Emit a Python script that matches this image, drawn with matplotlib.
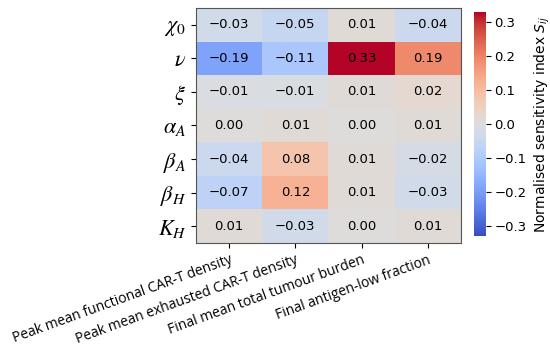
import matplotlib.pyplot as plt
import numpy as np

params = [r'$\chi_0$', r'$\nu$', r'$\xi$', r'$\alpha_A$', r'$\beta_A$', r'$\beta_H$', r'$K_H$']
outputs = ['Peak mean functional CAR-T density', 'Peak mean exhausted CAR-T density',
           'Final mean total tumour burden', 'Final antigen-low fraction']

chi0 = [-0.03, -0.05, 0.01, -0.04]
nu = [-0.19, -0.11, 0.33, 0.19]
xi = [-0.01, -0.01, 0.01, 0.02]
alphaA = [0.00, 0.01, 0.00, 0.01]
betaA = [-0.04, 0.08, 0.01, -0.02]
betaH = [-0.07, 0.12, 0.01, -0.03]
KH = [0.01, -0.03, 0.00, 0.01]

S = np.array([chi0, nu, xi, alphaA, betaA, betaH, KH])
vmax = np.abs(S).max()

plt.rcParams['mathtext.fontset'] = 'stix'

fig = plt.figure(figsize=(5.5, 3.46), dpi=100)
ax = fig.add_axes([196/550, 1 - 243/346, 265/550, 235/346])
cax = fig.add_axes([474/550, 1 - 236/346, 12/550, 224/346])

im = ax.imshow(S, cmap='coolwarm', vmin=-vmax, vmax=vmax, aspect='auto')
for i in range(S.shape[0]):
    for j in range(S.shape[1]):
        ax.text(j, i, f'{S[i, j]:.2f}'.replace('-', '\u2212'), ha='center', va='center',
                fontsize=9.5, color='black')

ax.set_yticks(range(len(params)))
ax.set_yticklabels(params, fontsize=16)
ax.set_xticks(range(len(outputs)))
ax.set_xticklabels(outputs, rotation=20, ha='right', rotation_mode='anchor',
                   fontsize=10, family='Open Sans')
for s in ax.spines.values():
    s.set_color('#555555')

cb = fig.colorbar(im, cax=cax)
cb.set_ticks([-0.3, -0.2, -0.1, 0.0, 0.1, 0.2, 0.3])
cb.ax.tick_params(labelsize=9.5, pad=2.5)
cb.set_label(r'Normalised sensitivity index $S_{ij}$', fontsize=10,
             math_fontfamily='dejavusans')
cb.ax.yaxis.set_label_coords(4.85, 0.5)
cb.outline.set_visible(False)

fig.savefig('out.png', dpi=100)
